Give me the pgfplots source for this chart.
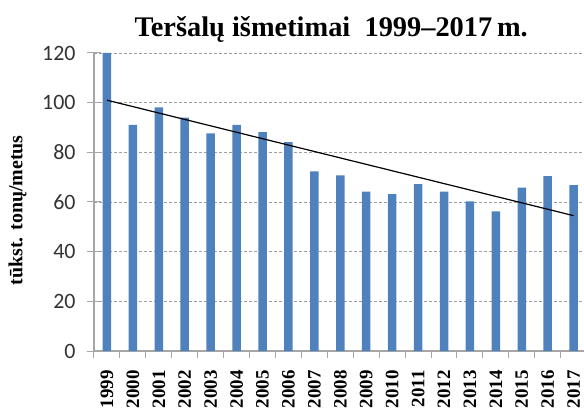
\documentclass[border=0pt]{standalone}
\usepackage{fontspec}
\setmainfont{Liberation Serif}
\newfontfamily\calibri{Carlito}
\usepackage{pgfplots}
\pgfplotsset{compat=1.18}
\definecolor{barblue}{HTML}{4F81BD}
\definecolor{axisgray}{HTML}{A6A6A6}

\begin{document}
\begin{tikzpicture}
\useasboundingbox (-94bp,-64bp) rectangle (490bp,351bp);
\begin{axis}[
at={(0,0)},anchor=south west,
scale only axis,width=490bp,height=298bp,
xmin=-0.5,xmax=18.4,ymin=0,ymax=120,
axis x line*=bottom,axis y line*=left,
axis line style={draw=axisgray,line width=1.3bp},
major tick length=7bp,
tick style={draw=axisgray,line width=1bp},
% category separators below the axis
xtick={-0.5,0.5,...,17.5},
xticklabels={},
xtick align=outside,
% year labels under the bars
extra x ticks={0,...,18},
extra x tick labels={1999,2000,2001,2002,2003,2004,2005,2006,2007,2008,2009,2010,2011,2012,2013,2014,2015,2016,2017},
extra x tick style={xtick align=inside,grid=none,tick style={draw=none},
  xticklabel style={rotate=90,anchor=east,font=\bfseries\fontsize{19}{19}\selectfont},
  xticklabel shift=16bp},
ytick={0,20,...,120},
ytick align=outside,
extra y ticks={0,20,...,120},
extra y tick labels={},
extra y tick style={ytick align=inside,grid=none},
yticklabel style={font=\calibri\fontsize{22}{22}\selectfont,text=black!80},
yticklabel shift=8bp,
/pgf/number format/assume math mode=true,
ymajorgrids,
major grid style={draw=gray!75,line width=0.8bp,dash pattern=on 3bp off 2bp},
ylabel={tūkst. tonų/metus},
ylabel style={at={(rel axis cs:-0.156,0.472)},anchor=center,
  font=\bfseries\fontsize{20}{20}\selectfont},
title={Teršalų išmetimai\ \ 1999–2017\,m.},
title style={at={(rel axis cs:0.484,1)},anchor=base,yshift=11bp,
  font=\bfseries\fontsize{28.5}{28.5}\selectfont},
clip=false,
]
\addplot[ybar,bar width=8.5bp,fill=barblue,draw=none] coordinates {
(0,120)(1,91.1)(2,98.1)(3,94.0)(4,87.6)(5,91.1)(6,88.1)(7,84.1)(8,72.3)(9,70.7)
(10,64.2)(11,63.2)(12,67.2)(13,64.2)(14,60.3)(15,56.2)(16,65.8)(17,70.4)(18,66.8)};
\addplot[black,line width=1.2bp] coordinates {(0,101)(18,54.5)};
\end{axis}
\end{tikzpicture}
\end{document}
